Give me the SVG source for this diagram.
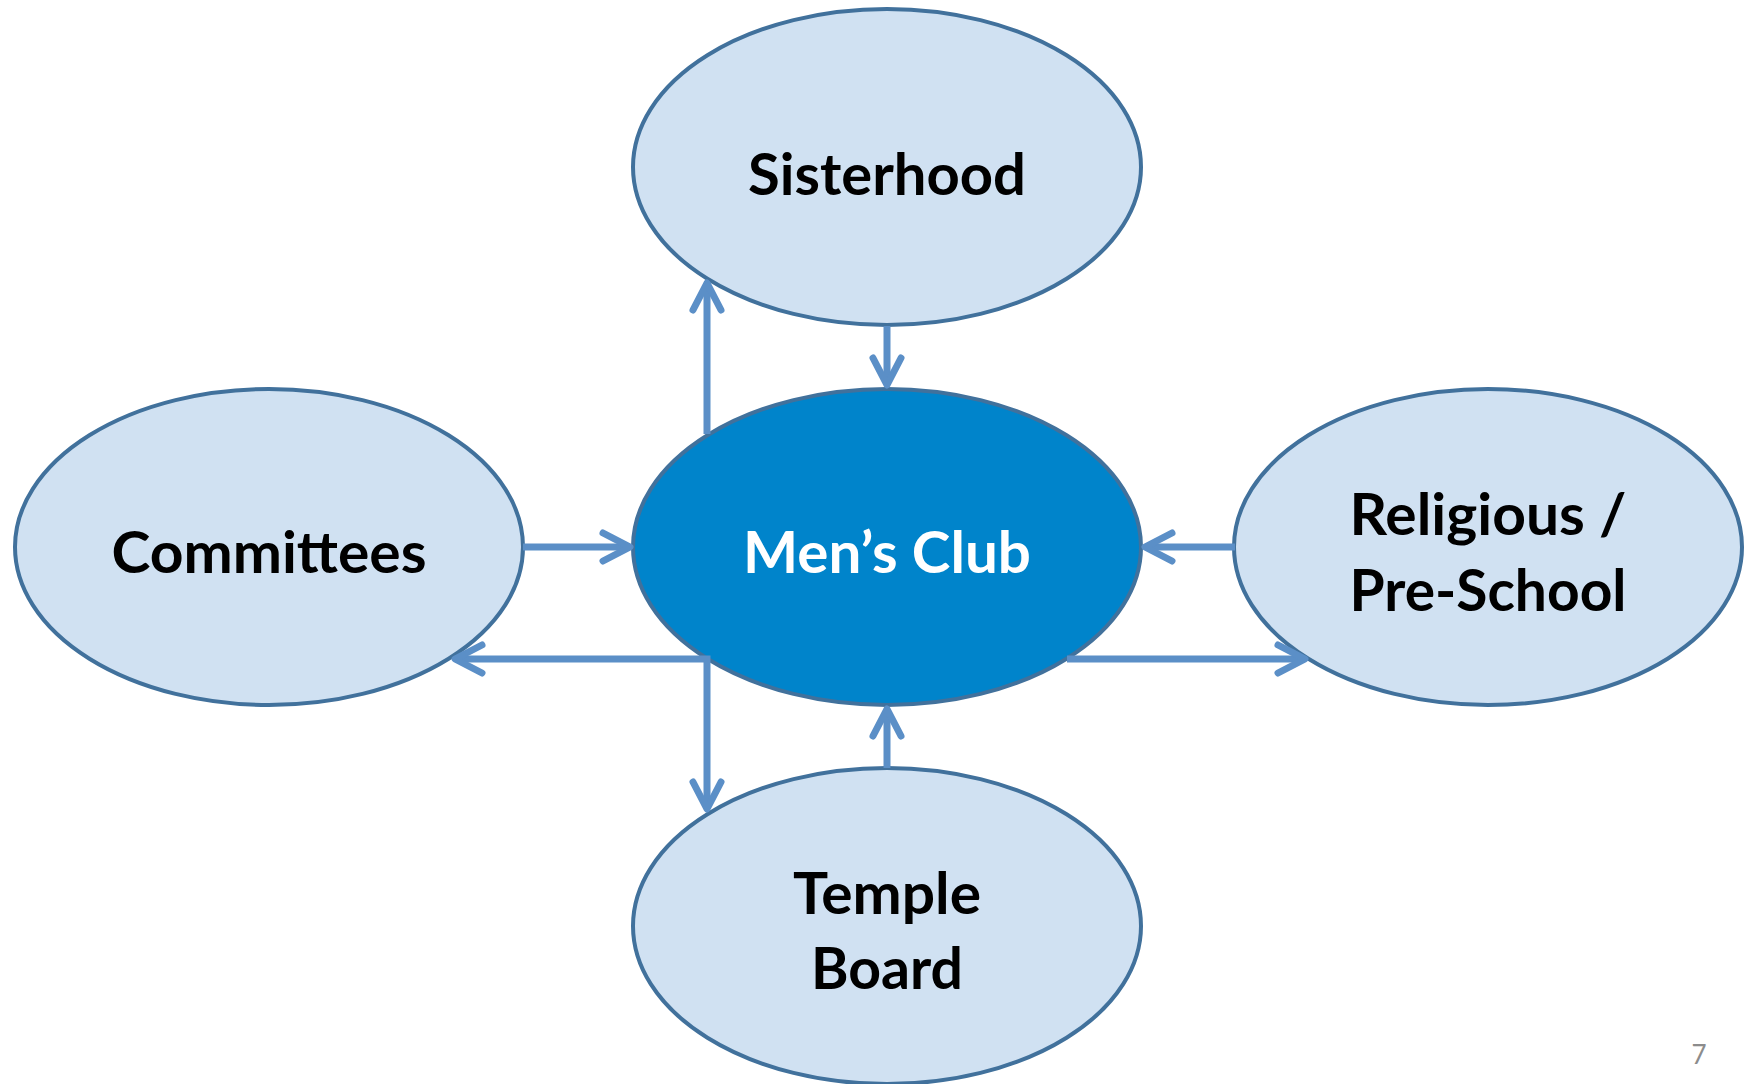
<svg xmlns="http://www.w3.org/2000/svg" width="1745" height="1084" viewBox="0 0 1745 1084">
<defs>
<style>
.node{fill:#D0E1F2;stroke:#41719C;stroke-width:4}
.hub{fill:#0084CB;stroke:#41719C;stroke-width:4}
.lbl{font-family:Lato,"Liberation Sans",sans-serif;font-weight:bold;font-size:57px;fill:#000;text-anchor:middle}
.hubl{fill:#fff}
.con{fill:none;stroke:#5B8FC7;stroke-width:7}
.head{fill:none;stroke:#5B8FC7;stroke-width:7;stroke-linecap:round;stroke-linejoin:round}
</style>
</defs>
<rect width="1745" height="1084" fill="#fff"/>
<g id="sisterhood"><ellipse class="node" cx="887" cy="167" rx="254" ry="158"/><text class="lbl" x="887" y="195" textLength="278" lengthAdjust="spacingAndGlyphs">Sisterhood</text></g>
<g id="mens-club"><ellipse class="hub" cx="887" cy="547" rx="254" ry="158"/><text class="lbl hubl" x="887" y="573" textLength="288" lengthAdjust="spacingAndGlyphs">Men’s Club</text></g>
<g id="committees"><ellipse class="node" cx="269" cy="547" rx="254" ry="158"/><text class="lbl" x="269" y="573" textLength="315" lengthAdjust="spacingAndGlyphs">Committees</text></g>
<g id="religious"><ellipse class="node" cx="1488" cy="547" rx="254" ry="158"/><text class="lbl" x="1488" y="535" textLength="277" lengthAdjust="spacingAndGlyphs">Religious /</text><text class="lbl" x="1488" y="611" textLength="277" lengthAdjust="spacingAndGlyphs">Pre-School</text></g>
<g id="temple-board"><ellipse class="node" cx="887" cy="926" rx="254" ry="158"/><text class="lbl" x="887" y="914" textLength="188" lengthAdjust="spacingAndGlyphs">Temple</text><text class="lbl" x="887" y="989" textLength="152" lengthAdjust="spacingAndGlyphs">Board</text></g>
<g id="connectors">
<line class="con" x1="707" y1="434" x2="707" y2="283"/><polyline class="head" points="693,310 707,283 721,310"/>
<line class="con" x1="887" y1="326" x2="887" y2="385"/><polyline class="head" points="873,358 887,385 901,358"/>
<line class="con" x1="523" y1="547" x2="630" y2="547"/><polyline class="head" points="603,533 630,547 603,561"/>
<line class="con" x1="1235" y1="547" x2="1145" y2="547"/><polyline class="head" points="1172,533 1145,547 1172,561"/>
<line class="con" x1="887" y1="768" x2="887" y2="709"/><polyline class="head" points="873,736 887,709 901,736"/>
<polyline class="con" points="455,659 707,659 707,809"/><polyline class="head" points="482,645 455,659 482,673"/><polyline class="head" points="693,782 707,809 721,782"/>
<line class="con" x1="1067" y1="659" x2="1305" y2="659"/><polyline class="head" points="1278,645 1305,659 1278,673"/>
</g>
<text x="1699" y="1064" font-family="Lato,'Liberation Sans',sans-serif" font-size="26" fill="#8C8C8C" text-anchor="middle">7</text>
</svg>
